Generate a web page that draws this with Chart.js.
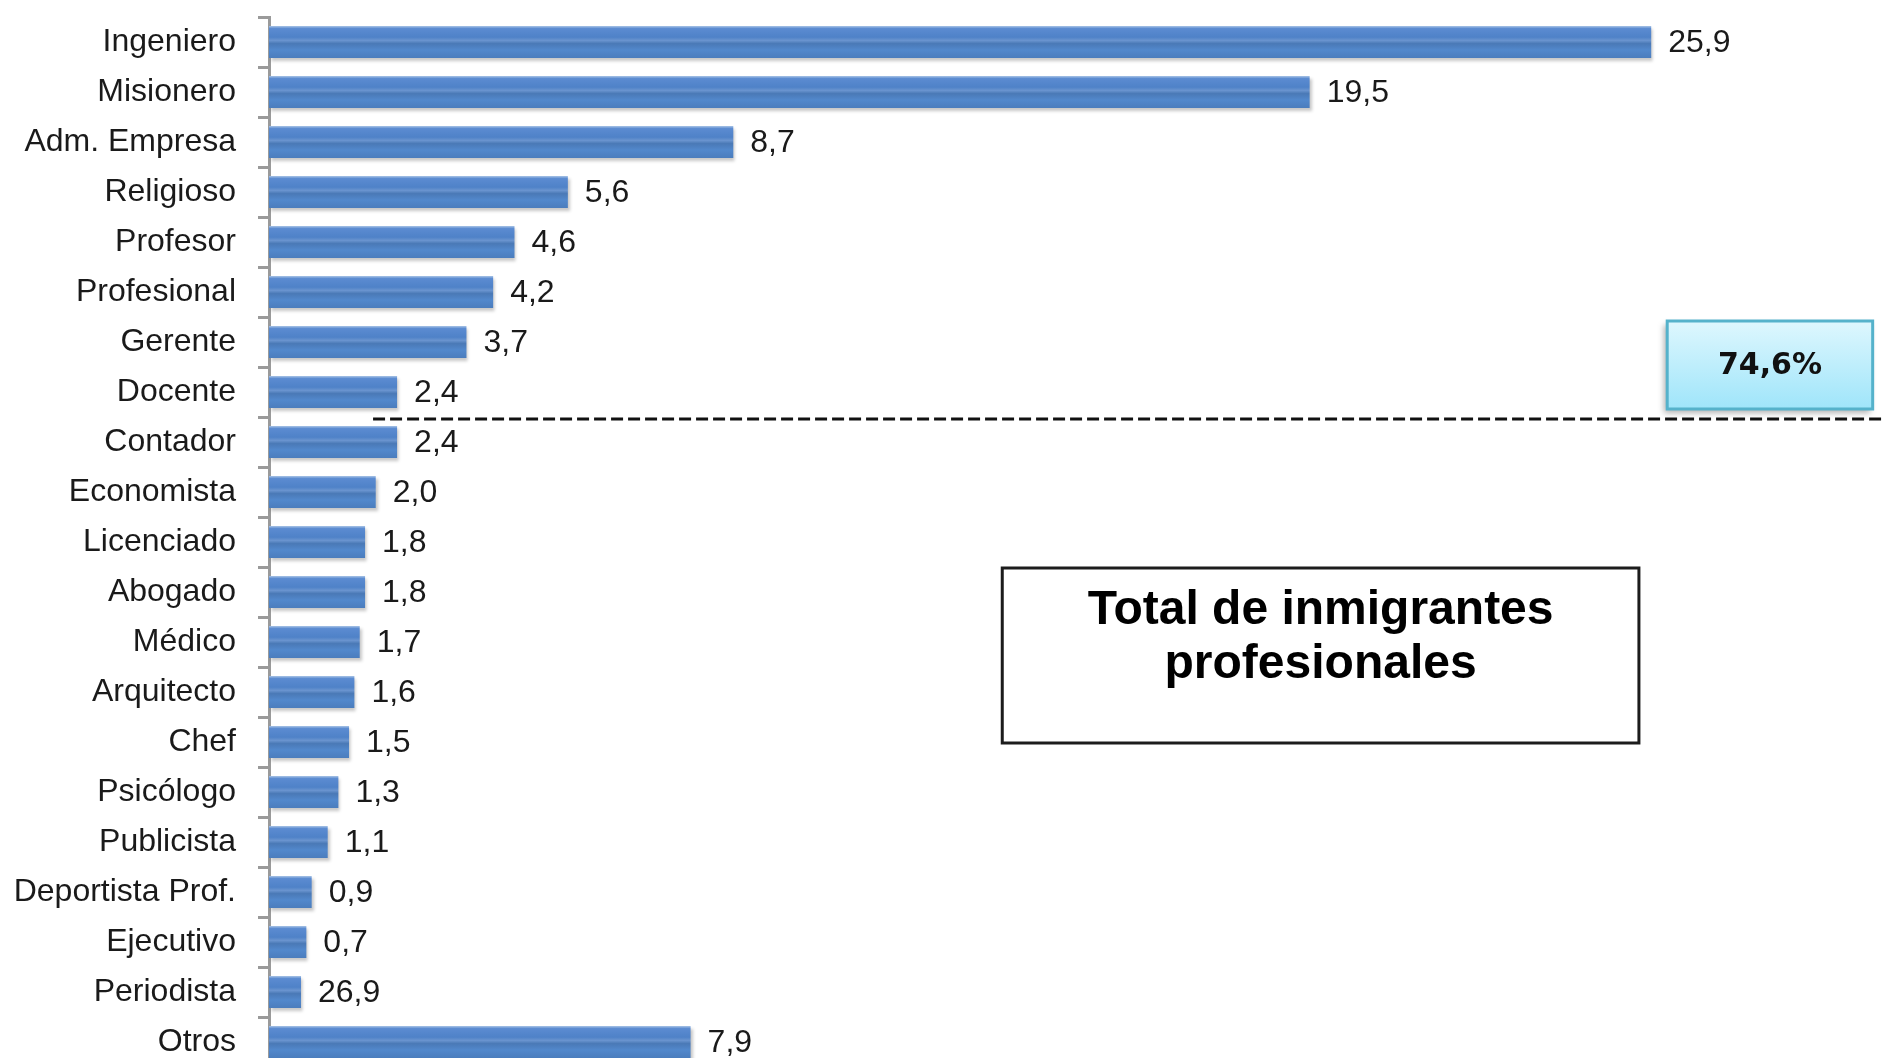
<!DOCTYPE html>
<html>
<head>
<meta charset="utf-8">
<script src="https://cdn.jsdelivr.net/npm/chart.js@4/dist/chart.umd.min.js"></script>
<style>
  html, body { margin: 0; padding: 0; background: #fff; overflow: hidden; width: 1882px; height: 1058px; }
  #wrap { position: relative; width: 1882px; height: 1074px; }
</style>
</head>
<body>
<div id="wrap"><canvas id="chart"></canvas></div>
<script>
// Professions (top to bottom) and bar lengths
const categories = ['Ingeniero', 'Misionero', 'Adm. Empresa', 'Religioso', 'Profesor', 'Profesional',
  'Gerente', 'Docente', 'Contador', 'Economista', 'Licenciado', 'Abogado', 'Médico', 'Arquitecto',
  'Chef', 'Psicólogo', 'Publicista', 'Deportista Prof.', 'Ejecutivo', 'Periodista', 'Otros'];
const barValues = [25.9, 19.5, 8.7, 5.6, 4.6, 4.2, 3.7, 2.4, 2.4, 2.0, 1.8, 1.8, 1.7, 1.6,
  1.5, 1.3, 1.1, 0.8, 0.7, 0.6, 7.9];
// Printed labels next to each bar (kept exactly as shown)
const valueLabels = ['25,9', '19,5', '8,7', '5,6', '4,6', '4,2', '3,7', '2,4', '2,4', '2,0', '1,8', '1,8',
  '1,7', '1,6', '1,5', '1,3', '1,1', '0,9', '0,7', '26,9', '7,9'];
const shareText = '74,6%';
const boxTitle = ['Total de inmigrantes', 'profesionales'];

const FONT = "'Liberation Sans', Arial, sans-serif";

// Excel-like glossy gradient for each bar
function barGradient(context) {
    const chart = context.chart;
    const y = chart.scales.y;
    if (!y || context.dataIndex === undefined) return '#4f82c9';
    const cy = y.getPixelForValue(context.dataIndex);
    if (!isFinite(cy)) return '#4f82c9';
    const g = chart.ctx.createLinearGradient(0, cy - 16, 0, cy + 16);
    g.addColorStop(0, '#a9c4e6');
    g.addColorStop(0.08, '#5b8bd1');
    g.addColorStop(0.35, '#4f82c8');
    g.addColorStop(0.45, '#6a94cf');
    g.addColorStop(0.55, '#4a79b6');
    g.addColorStop(0.75, '#5288cc');
    g.addColorStop(1, '#4b7dbd');
    return g;
}

// Soft shadow under the bars
const barShadow = {
    id: 'barShadow',
    beforeDatasetDraw(chart) {
        const ctx = chart.ctx;
        ctx.save();
        ctx.shadowColor = 'rgba(0,0,0,0.22)';
        ctx.shadowBlur = 3;
        ctx.shadowOffsetX = 2;
        ctx.shadowOffsetY = 3;
    },
    afterDatasetDraw(chart) {
        chart.ctx.restore();
    }
};

// Value labels, dashed separator and the two text boxes
const overlay = {
    id: 'overlay',
    afterDatasetsDraw(chart) {
        const ctx = chart.ctx;
        const x = chart.scales.x;
        const y = chart.scales.y;
        const meta = chart.getDatasetMeta(0);

        ctx.save();
        ctx.font = '32px ' + FONT;
        ctx.fillStyle = '#1a1a1a';
        ctx.textAlign = 'left';
        ctx.textBaseline = 'middle';
        meta.data.forEach((bar, i) => {
            ctx.fillText(valueLabels[i], bar.x + 17, bar.y + 1);
        });

        // dashed line between Docente and Contador
        const lineY = (y.getPixelForValue(7) + y.getPixelForValue(8)) / 2 + 2;
        ctx.beginPath();
        ctx.setLineDash([12, 5]);
        ctx.lineWidth = 3;
        ctx.strokeStyle = '#111';
        ctx.moveTo(x.getPixelForValue(1.95), lineY);
        ctx.lineTo(chart.width, lineY);
        ctx.stroke();
        ctx.setLineDash([]);

        // 74,6% box
        const bx = x.getPixelForValue(26.2), bw = x.getPixelForValue(30.05) - bx;
        const bcy = (y.getPixelForValue(6) + y.getPixelForValue(7)) / 2 - 2;
        const by = bcy - 44, bh = 88;
        ctx.save();
        ctx.shadowColor = 'rgba(0,0,0,0.3)';
        ctx.shadowBlur = 6;
        ctx.shadowOffsetX = -3;
        ctx.shadowOffsetY = 4;
        const g = ctx.createLinearGradient(0, by, 0, by + bh);
        g.addColorStop(0, '#def7fe');
        g.addColorStop(1, '#9fe5fa');
        ctx.fillStyle = g;
        ctx.fillRect(bx, by, bw, bh);
        ctx.restore();
        ctx.lineWidth = 3;
        ctx.strokeStyle = '#55b2cb';
        ctx.strokeRect(bx, by, bw, bh);
        ctx.font = "bold 30px 'DejaVu Sans', Verdana, sans-serif";
        ctx.fillStyle = '#111';
        ctx.textAlign = 'center';
        ctx.fillText(shareText, bx + bw / 2, bcy + 1);

        // title box
        const tx = x.getPixelForValue(13.74), tw = x.getPixelForValue(25.67) - tx;
        const ty = y.getPixelForValue(10.56) - 2, th = y.getPixelForValue(14.06) - 2 - ty;
        ctx.fillStyle = '#fff';
        ctx.fillRect(tx, ty, tw, th);
        ctx.lineWidth = 3;
        ctx.strokeStyle = '#1c1c1c';
        ctx.strokeRect(tx, ty, tw, th);
        ctx.font = 'bold 48px ' + FONT;
        ctx.fillStyle = '#000';
        ctx.textBaseline = 'alphabetic';
        ctx.fillText(boxTitle[0], tx + tw / 2, ty + 56);
        ctx.fillText(boxTitle[1], tx + tw / 2, ty + 110);
        ctx.restore();
    }
};

new Chart(document.getElementById('chart'), {
    type: 'bar',
    data: {
        labels: categories,
        datasets: [{
            data: barValues,
            backgroundColor: barGradient,
            borderWidth: 0,
            barPercentage: 0.64,
            categoryPercentage: 1.0
        }]
    },
    options: {
        indexAxis: 'y',
        responsive: true,
        maintainAspectRatio: false,
        animation: false,
        layout: { padding: { top: 17, bottom: 7, left: 0, right: 12 } },
        scales: {
            x: {
                display: false,
                min: 0,
                max: 30
            },
            y: {
                afterFit(scale) {
                    scale.width = 269;
                    scale.paddingTop = 0;
                    scale.paddingBottom = 0;
                },
                grid: {
                    drawOnChartArea: false,
                    drawTicks: true,
                    tickLength: 11,
                    color: '#9a9a9a',
                    lineWidth: 3,
                    offset: true
                },
                border: { display: true, color: '#9a9a9a', width: 3 },
                ticks: {
                    autoSkip: false,
                    padding: 22,
                    color: '#1a1a1a',
                    font: { family: FONT, size: 32 }
                }
            }
        },
        plugins: {
            legend: { display: false },
            tooltip: { enabled: false }
        }
    },
    plugins: [barShadow, overlay]
});
</script>
</body>
</html>
